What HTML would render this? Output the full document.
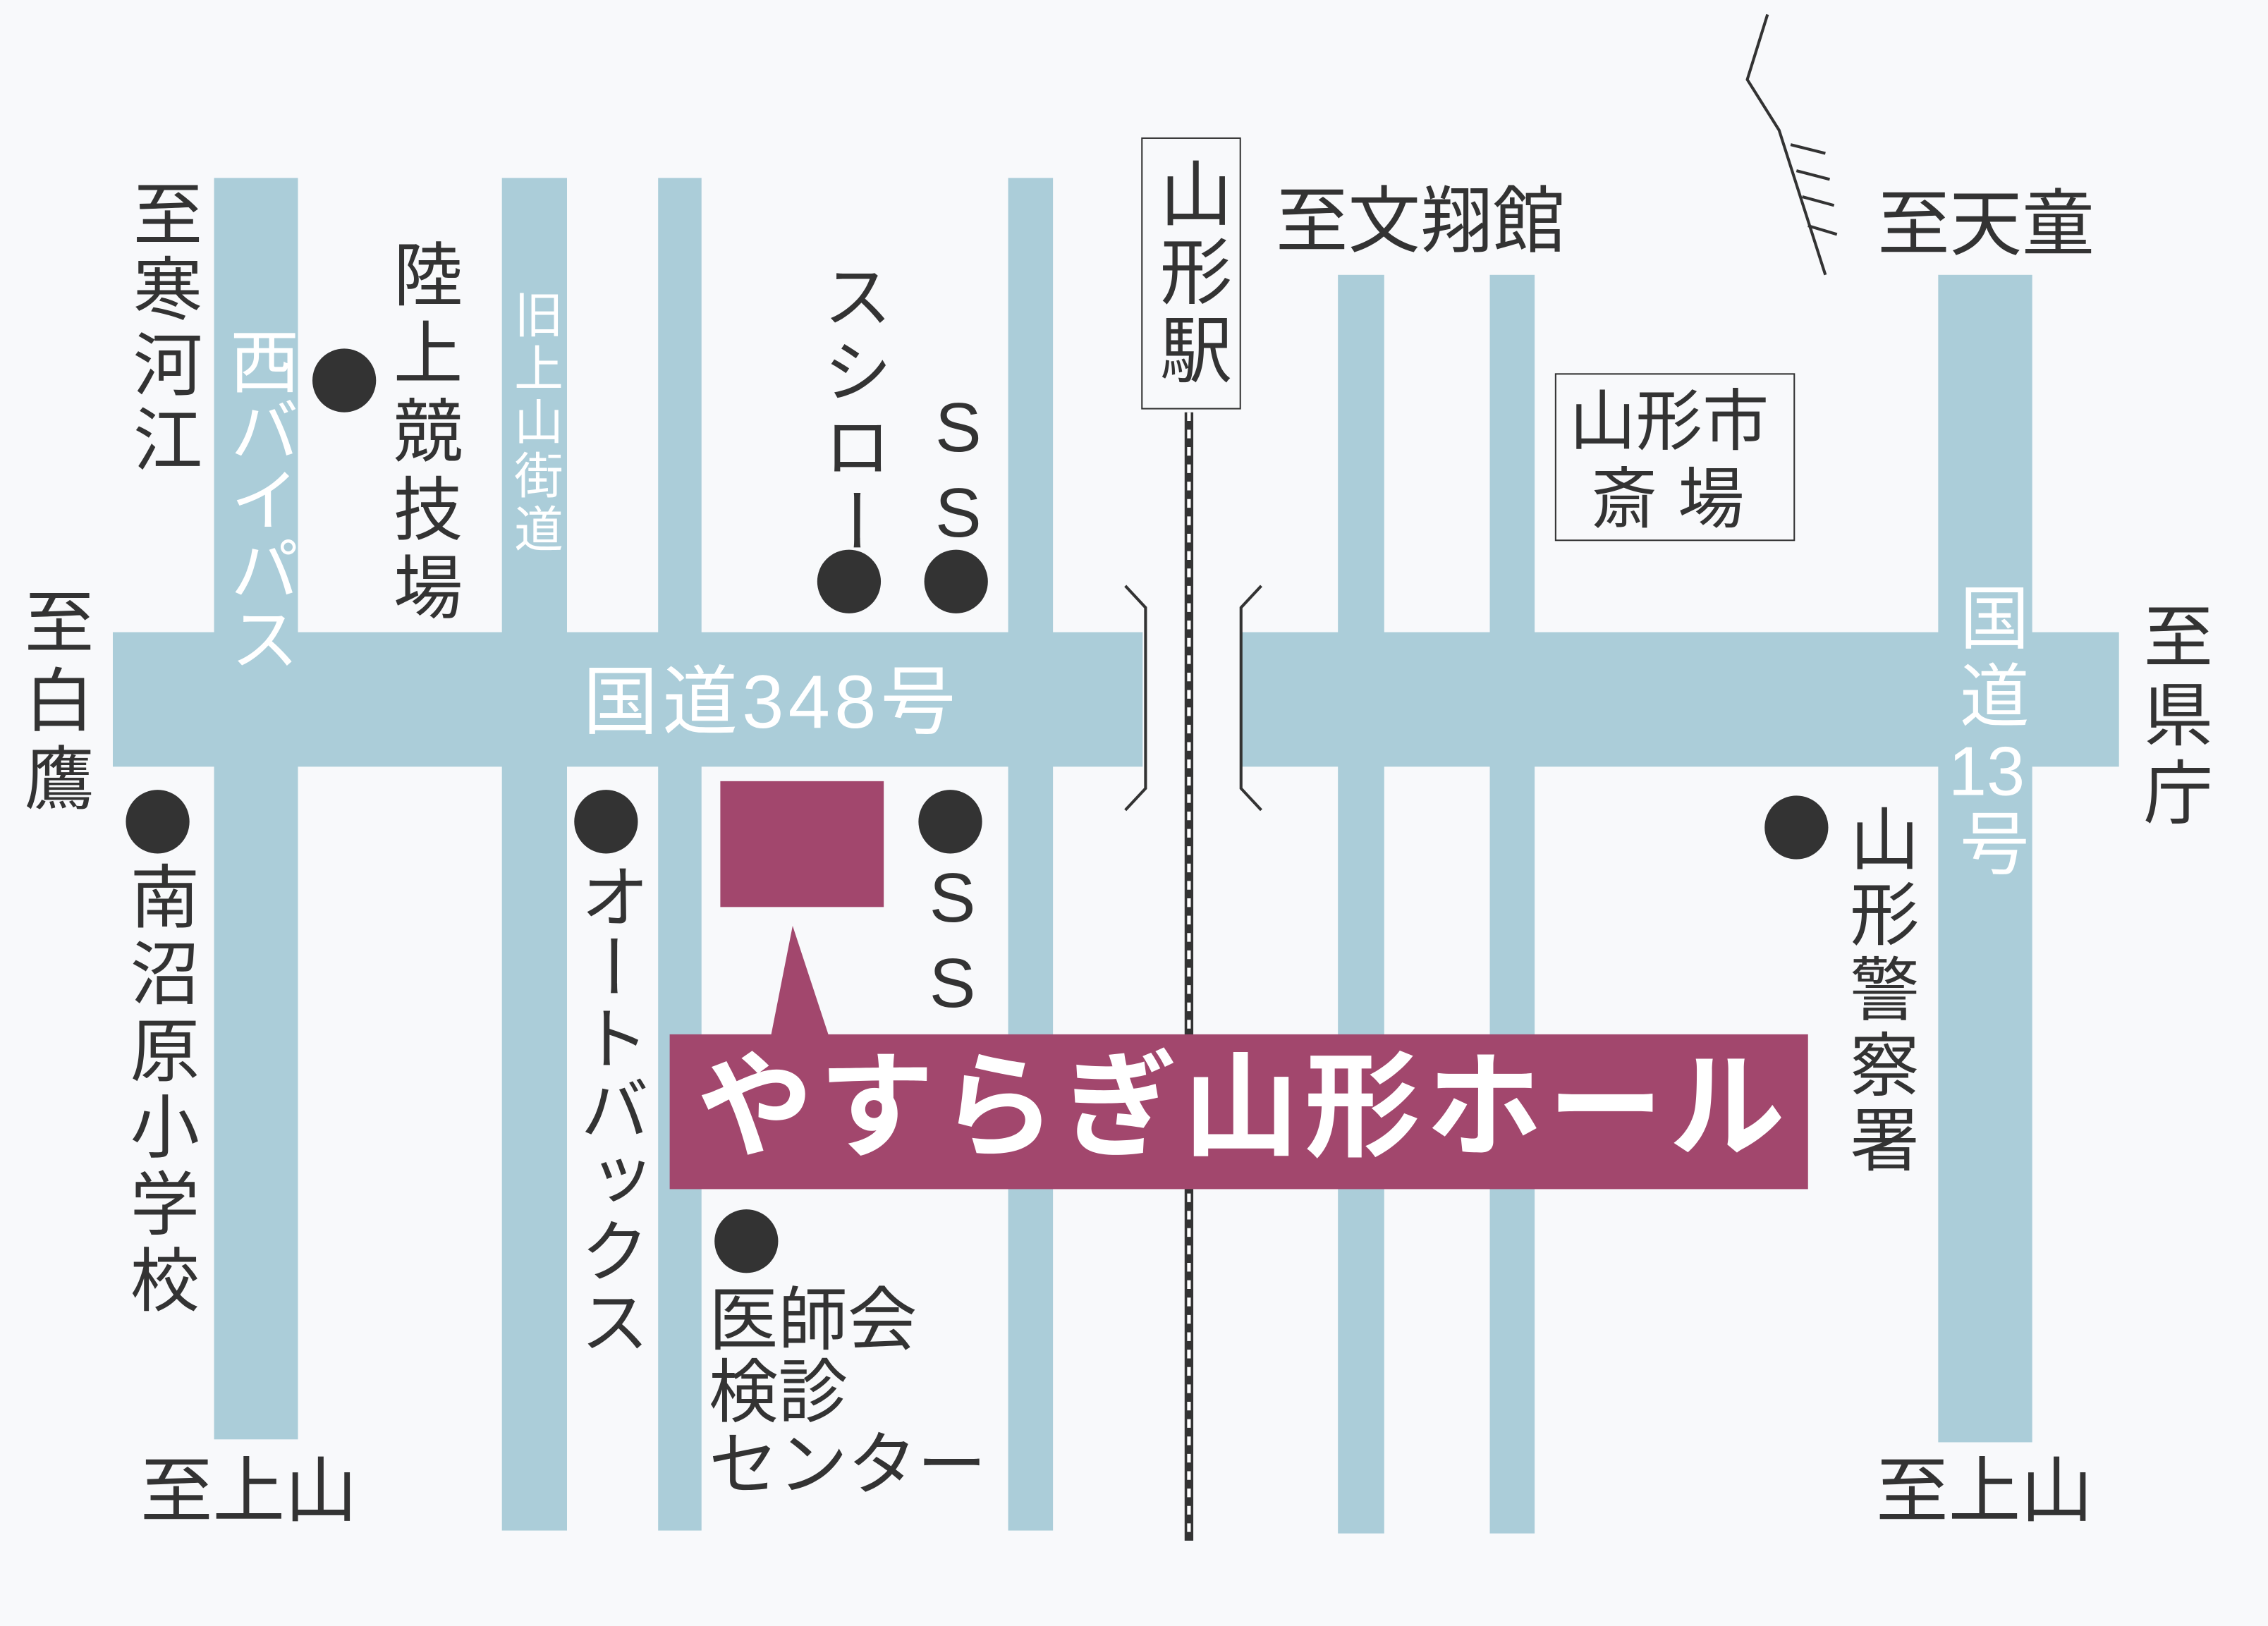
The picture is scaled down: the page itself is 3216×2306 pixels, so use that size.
<!DOCTYPE html>
<html><head><meta charset="utf-8">
<style>
html,body{margin:0;padding:0;background:#f8f9fb;width:3216px;height:2306px;overflow:hidden}
#c{position:absolute;left:0;top:0;width:1568px;height:1124px;transform:scale(2.051,2.0516);transform-origin:0 0;font-family:"Liberation Sans","Noto Sans CJK JP",sans-serif;color:#333}
.r{position:absolute;background:#abcdd9}
.d{position:absolute;width:44px;height:44px;border-radius:50%;background:#333}
.v{position:absolute;writing-mode:vertical-rl;text-orientation:upright;font-size:48px;line-height:1;letter-spacing:4px;white-space:nowrap}
.h{position:absolute;font-size:48px;line-height:1;white-space:nowrap}
.w{color:#fff}
.tc{text-combine-upright:all}
</style></head><body><div id="c">
<div class="r" style="left:148px;top:123px;width:58px;height:872px"></div>
<div class="r" style="left:347px;top:123px;width:45px;height:935px"></div>
<div class="r" style="left:455px;top:123px;width:30px;height:935px"></div>
<div class="r" style="left:697px;top:123px;width:31px;height:935px"></div>
<div class="r" style="left:925px;top:190px;width:32px;height:870px"></div>
<div class="r" style="left:1030px;top:190px;width:31px;height:870px"></div>
<div class="r" style="left:1340px;top:190px;width:65px;height:807px"></div>
<div class="r" style="left:78px;top:437px;width:712px;height:93px"></div>
<div class="r" style="left:858px;top:437px;width:607px;height:93px"></div>
<svg style="position:absolute;left:0;top:0" width="1568" height="1124">
<line x1="822" y1="285" x2="822" y2="1065" stroke="#333" stroke-width="6"/>
<line x1="822" y1="285" x2="822" y2="1065" stroke="#fff" stroke-width="2.5" stroke-dasharray="6 6"/>
<polyline points="778,405 792,420 792,545 778,560" fill="none" stroke="#333" stroke-width="2"/>
<polyline points="872,405 858,420 858,545 872,560" fill="none" stroke="#333" stroke-width="2"/>
<rect x="498" y="540" width="113" height="87" fill="#a2476d"/>
<polygon points="548,640 533,716 573,716" fill="#a2476d"/>
<rect x="463" y="715" width="787" height="107" fill="#a2476d"/>
<polyline points="1222,10 1208,55 1230,90 1262,190" fill="none" stroke="#333" stroke-width="2"/>
<line x1="1238" y1="100" x2="1262" y2="106" stroke="#333" stroke-width="2"/>
<line x1="1242" y1="118" x2="1265" y2="124" stroke="#333" stroke-width="2"/>
<line x1="1246" y1="136" x2="1268" y2="142" stroke="#333" stroke-width="2"/>
<line x1="1250" y1="156" x2="1270" y2="162" stroke="#333" stroke-width="2"/>
</svg>
<div style="position:absolute;left:789px;top:95px;width:67px;height:186px;border:1.5px solid #333;background:#f8f9fb"></div>
<div class="v" style="left:798px;top:108px;font-size:50px">山形駅</div>
<div style="position:absolute;left:1075px;top:258px;width:164px;height:114px;border:1.5px solid #333"></div>
<div class="h" style="left:1085px;top:268px;font-size:46px">山形市</div>
<div class="h" style="left:1100px;top:322px;font-size:46px;letter-spacing:14px">斎場</div>
<div class="h w" style="left:482px;top:726px;font-size:80px;font-weight:bold;letter-spacing:4px">やすらぎ山形ホール</div>
<div class="d" style="left:216px;top:241px"></div>
<div class="d" style="left:565px;top:380px"></div>
<div class="d" style="left:639px;top:380px"></div>
<div class="d" style="left:87px;top:546px"></div>
<div class="d" style="left:397px;top:546px"></div>
<div class="d" style="left:635px;top:546px"></div>
<div class="d" style="left:1220px;top:550px"></div>
<div class="d" style="left:494px;top:836px"></div>
<div class="v" style="left:86px;top:123px">至寒河江</div>
<div class="v w" style="left:153px;top:225px;letter-spacing:0">西バイパス</div>
<div class="v" style="left:266px;top:165px;letter-spacing:6px">陸上競技場</div>
<div class="v w" style="left:352px;top:200px;font-size:34px;letter-spacing:3px">旧上山街道</div>
<div class="v" style="left:563px;top:180px;letter-spacing:4px">スシロー</div>
<div class="v" style="left:638px;top:270px;letter-spacing:6px">SS</div>
<div class="h" style="left:882px;top:128px;font-size:50px">至文翔館</div>
<div class="h" style="left:1298px;top:130px;font-size:50px">至天童</div>
<div class="v" style="left:11px;top:405px;letter-spacing:6px">至白鷹</div>
<div class="h w" style="left:403px;top:460px;font-size:52px;letter-spacing:3px">国道348号</div>
<div class="v w" style="left:1349px;top:402px;letter-spacing:6px">国道<span class="tc">13</span>号</div>
<div class="v" style="left:1476px;top:415px;letter-spacing:6px">至県庁</div>
<div class="v" style="left:84px;top:595px;letter-spacing:5px">南沼原小学校</div>
<div class="v" style="left:395px;top:595px;letter-spacing:1px">オートバックス</div>
<div class="v" style="left:634px;top:595px;letter-spacing:6px">SS</div>
<div class="v" style="left:1273px;top:555px;letter-spacing:4px">山形警察署</div>
<div class="h" style="left:490px;top:890px;font-size:48px">医師会</div>
<div class="h" style="left:490px;top:940px;font-size:48px">検診</div>
<div class="h" style="left:490px;top:990px;font-size:48px">センター</div>
<div class="h" style="left:97px;top:1006px;font-size:50px">至上山</div>
<div class="h" style="left:1297px;top:1006px;font-size:50px">至上山</div>
</div></body></html>
